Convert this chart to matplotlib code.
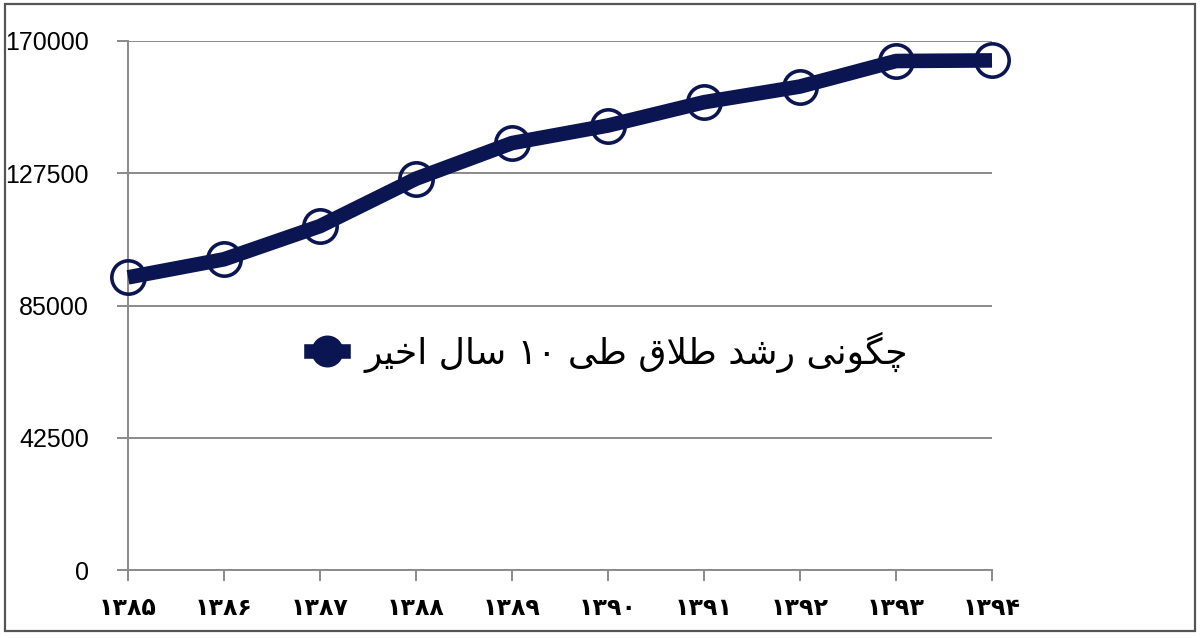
import matplotlib.pyplot as plt
from matplotlib.lines import Line2D
from matplotlib.patches import Rectangle

# -------------------------------
# Data
# -------------------------------
years = ['۱۳۸۵', '۱۳۸۶', '۱۳۸۷', '۱۳۸۸', '۱۳۸۹',
         '۱۳۹۰', '۱۳۹۱', '۱۳۹۲', '۱۳۹۳', '۱۳۹۴']
divorces = [94039, 99852, 110510, 125747, 137200,
            142841, 150324, 155369, 163569, 163765]
y_ticks = [0, 42500, 85000, 127500, 170000]

# series name, already shaped (presentation forms, visual order)
# logical text: چگونی رشد طلاق طی ۱۰ سال اخیر
series_name = ('\uFEAE\uFBFF\uFEA7\uFE8D \uFEDD\uFE8E\uFEB3 \u06F1\u06F0 '
               '\uFBFD\uFEC3 \uFED5\uFEFC\uFEC3 \uFEAA\uFEB7\uFEAD '
               '\uFBFD\uFEE7\uFEEE\uFB95\uFB7C')

navy = '#0b1552'
grid_gray = '#8a8a8a'

# -------------------------------
# Plot
# -------------------------------
fig = plt.figure(figsize=(12, 6.38), dpi=100)
ax = fig.add_axes([128/1200, 1 - 570/638, 864/1200, 529/638])

x = list(range(len(years)))
ax.plot(x, divorces, color=navy, linewidth=10.5, solid_capstyle='butt',
        marker='o', markersize=24, markerfacecolor='none',
        markeredgecolor=navy, markeredgewidth=2.6, clip_on=False, zorder=3)

ax.set_xlim(0, len(years) - 1)
ax.set_ylim(0, 170000)
ax.set_xticks(x)
ax.set_xticklabels(years, fontsize=17, fontweight='bold',
                   family=['DejaVu Sans'])
ax.set_yticks(y_ticks)
ax.set_yticklabels([str(v) for v in y_ticks], fontsize=18,
                   family=['Liberation Sans'])

ax.grid(axis='y', color=grid_gray, linewidth=1.4)
ax.set_axisbelow(True)
for side in ['top', 'right']:
    ax.spines[side].set_visible(False)
for side in ['left', 'bottom']:
    ax.spines[side].set_color(grid_gray)
    ax.spines[side].set_linewidth(1.4)
ax.tick_params(axis='x', length=8, width=1.4, color=grid_gray, pad=11)
ax.tick_params(axis='y', length=8, width=1.4, color=grid_gray, pad=20)

# legend in the middle of the chart
handle = Line2D([0], [0], color=navy, linewidth=10.5, marker='o',
                markersize=22, markerfacecolor=navy, markeredgecolor=navy)
fig.legend([handle], [series_name], loc='center',
           bbox_to_anchor=(0.508, 0.448), frameon=False, handlelength=0.9,
           handletextpad=0.6,
           prop={'family': ['DejaVu Sans'], 'size': 26})

# outer frame
fig.patches.append(Rectangle((5/1200, 1 - 631/638), 1190/1200, 627/638,
                             transform=fig.transFigure, fill=False,
                             edgecolor='#555555', linewidth=1.6))

plt.savefig('out.png', dpi=100)
